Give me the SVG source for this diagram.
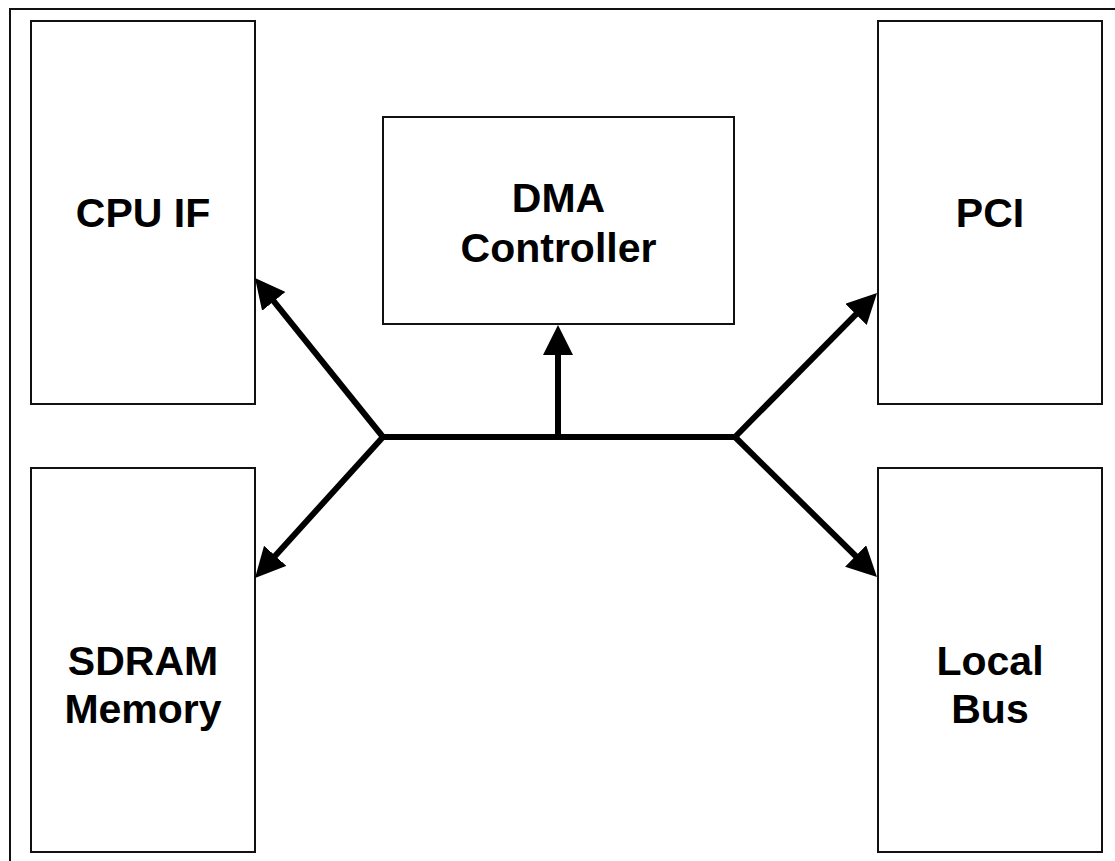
<svg xmlns="http://www.w3.org/2000/svg" width="1115" height="861" viewBox="0 0 1115 861">
  <style>
    .frame { fill: none; stroke: #111; stroke-width: 2; }
    .box { fill: #fff; stroke: #111; stroke-width: 2; }
    .label { font-family: "Liberation Sans", Arial, sans-serif; font-weight: bold; font-size: 41px; fill: #000; text-anchor: middle; }
    .bus { fill: none; stroke: #000; stroke-width: 6; stroke-linejoin: miter; }
    .arrow { stroke: #000; stroke-width: 6; marker-end: url(#head); }
  </style>
  <defs>
    <marker id="head" viewBox="0 0 10 10" markerWidth="5" markerHeight="5" refX="5" refY="5" orient="auto" markerUnits="strokeWidth">
      <path d="M0,0 L10,5 L0,10 Z" fill="#000"/>
    </marker>
  </defs>

  <rect width="1115" height="861" fill="#fff"/>
  <!-- outer border, open to the right and bottom -->
  <rect class="frame" x="10" y="9" width="1200" height="1000"/>

  <g id="cpu-if">
    <rect class="box" x="31" y="21" width="224" height="383"/>
    <text class="label" x="143" y="227">CPU IF</text>
  </g>

  <g id="sdram">
    <rect class="box" x="31" y="468" width="224" height="384"/>
    <text class="label" x="143" y="675">SDRAM</text>
    <text class="label" x="143" y="723">Memory</text>
  </g>

  <g id="dma">
    <rect class="box" x="383" y="117" width="351" height="207"/>
    <text class="label" x="558.5" y="212">DMA</text>
    <text class="label" x="558.5" y="262">Controller</text>
  </g>

  <g id="pci">
    <rect class="box" x="878" y="21" width="224" height="383"/>
    <text class="label" x="990" y="227">PCI</text>
  </g>

  <g id="local-bus">
    <rect class="box" x="878" y="468" width="224" height="384"/>
    <text class="label" x="990" y="675">Local</text>
    <text class="label" x="990" y="723">Bus</text>
  </g>

  <g id="connectors">
    <path class="bus" d="M383,437 L735,437"/>
    <line class="arrow" x1="383" y1="437" x2="264.4" y2="289.7"/>
    <line class="arrow" x1="383" y1="437" x2="265.1" y2="566.9"/>
    <line class="arrow" x1="735" y1="437" x2="866.5" y2="303.7"/>
    <line class="arrow" x1="735" y1="437" x2="866.3" y2="566.5"/>
    <line class="arrow" x1="558" y1="437" x2="558" y2="340"/>
  </g>
</svg>
